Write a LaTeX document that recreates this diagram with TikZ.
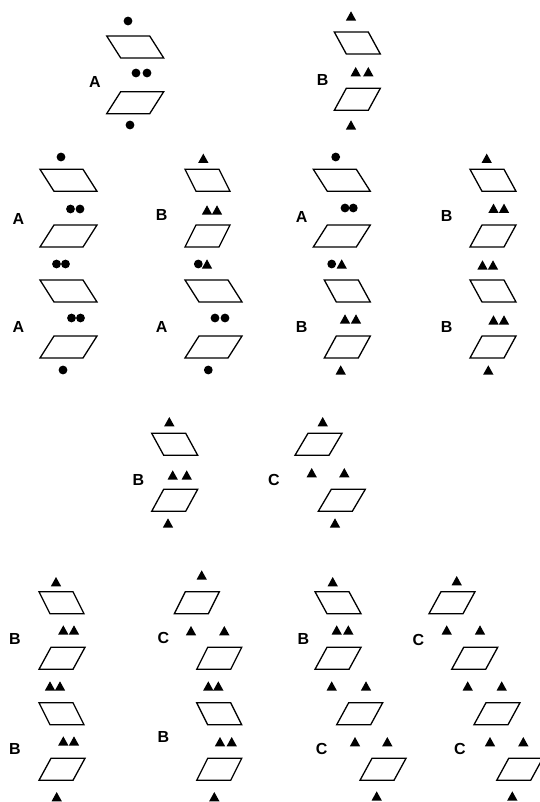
\documentclass[tikz,border=0pt]{standalone}
\usepackage{fontspec}
\setsansfont{Liberation Sans}
\usetikzlibrary{positioning}

\begin{document}
\begin{tikzpicture}[x=1pt, y=-1pt,
    tile/.style={draw, line width=1.3pt, line join=miter},
    lbl/.style={inner sep=0pt, font=\sffamily\bfseries\fontsize{16}{16}\selectfont}]
  \useasboundingbox (0,0) rectangle (540,802);

  % tiles leaning like a backslash: left/top/width/shift
  \foreach \x/\y/\w/\d in {106.7/36/43/14, 334.3/32/34/12,
      40/169.3/43/14, 40/280/43/14, 185/169.3/34/11, 185/280/43/14,
      313.3/169.3/43/14, 324.3/280/34/12, 470/169.3/34/12, 470/280/34/12,
      151.7/433.3/34/12,
      39/591.7/34/11, 39/702.7/34/11, 196.7/702.7/34/11, 315/591.7/34/12}
    \draw[tile] (\x,\y) -- ++(\w,0) -- ++(\d,22) -- ++(-\w,0) -- cycle;

  % tiles leaning like a slash
  \foreach \x/\y/\w/\d in {106.7/91.7/43/14, 334.3/88.3/34/12,
      40/225/43/14, 40/336/43/14, 185/225/34/11, 185/336/43/14,
      313.3/225/43/14, 324.3/336/34/12, 470/225/34/12, 470/336/34/12,
      151.7/489.3/34/12, 295/433.3/34/13, 318.3/489.3/34/13,
      39/647.3/34/12, 39/758.3/34/12,
      174.3/591.7/34/11, 196.7/647.3/34/11, 196.7/758.3/34/11,
      315/647.3/34/12, 336.7/702.7/34/12, 360/758.3/34/12,
      429/591.7/34/12, 451.7/647.3/34/12, 474/702.7/34/12, 496.7/758.3/34/12}
    \draw[tile] (\x+\d,\y) -- ++(\w,0) -- ++(-\d,22) -- ++(-\w,0) -- cycle;

  % dots
  \foreach \x/\y in {128/21, 136/73, 147/73, 130/125,
      61/157, 70.5/209, 80/209, 56.5/264, 65.5/264, 71.5/318, 80.5/318, 63/370,
      198.3/264, 215/318, 225/318, 208.3/370,
      335.7/157, 345/208, 353.3/208, 331.7/264}
    \fill (\x,\y) circle[radius=4.4];

  % triangles
  \foreach \x/\y in {351/16, 355.7/71.7, 368.3/71.7, 351/125,
      203.3/158.3, 207/210, 217/210, 207/264,
      341.7/264, 345/319, 356/319, 340.7/370,
      486.7/158.3, 493.5/208.3, 504/208.3, 482.5/265, 493/265,
      493.5/320, 504/320, 488.3/370,
      169.3/421.7, 172.7/475, 186.7/475, 168/523,
      322.7/421.7, 311.7/472.7, 344.3/472.7, 335/523,
      56/581.7, 63.3/630, 74/630, 50/686, 60/686, 63.3/741, 74/741, 56.7/796.7,
      201.7/575, 191/630.7, 224.3/630.7, 208.3/686, 218.3/686,
      220/741.7, 231.7/741.7, 214.3/796.7,
      332.7/581.7, 336.7/630, 348.3/630, 331.7/686, 366/686,
      355/741.7, 387.3/741.7, 376.7/796,
      456.7/580.7, 446.7/630, 480/630, 467.7/686, 501.7/686,
      490/741.7, 523.3/741.7, 512.3/796}
    \fill (\x-5.2,\y+4.7) -- (\x+5.2,\y+4.7) -- (\x,\y-4.7) -- cycle;

  \node[lbl] (topA) at (95,82) {A};
  \node[lbl] (topB) at (322.7,80) {B};
  \node[lbl] (aaOne) at (18.3,219) {A};
  \node[lbl] (aaTwo) at (18.3,327) {A};
  \node[lbl] (baOne) at (161.7,215) {B};
  \node[lbl] (baTwo) at (161.7,327) {A};
  \node[lbl] (abOne) at (301.7,217) {A};
  \node[lbl] (abTwo) at (301.7,327) {B};
  \node[lbl] (bbOne) at (446.7,216) {B};
  \node[lbl] (bbTwo) at (446.7,327) {B};
  \node[lbl] (midB) at (138.3,480) {B};
  \node[lbl] (midC) at (274,480) {C};
  \node[lbl] (lbbOne) at (15,639) {B};
  \node[lbl] (lbbTwo) at (15,749) {B};
  \node[lbl] (cbOne) at (163.3,638) {C};
  \node[lbl] (cbTwo) at (163.3,737) {B};
  \node[lbl] (bcOne) at (303.3,639) {B};
  \node[lbl] (bcTwo) at (321.7,749) {C};
  \node[lbl] (ccOne) at (418.3,640) {C};
  \node[lbl] (ccTwo) at (460,749) {C};
\end{tikzpicture}
\end{document}
